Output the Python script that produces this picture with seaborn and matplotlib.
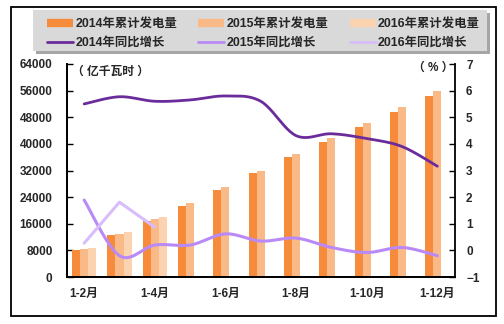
import numpy as np
import pandas as pd
import matplotlib
matplotlib.use("Agg")
import matplotlib.pyplot as plt
from matplotlib.lines import Line2D
from matplotlib.patches import Rectangle
import seaborn as sns

# Cumulative power generation (100 million kWh) and year-on-year growth (%)
months = ["1-2月", "1-3月", "1-4月", "1-5月", "1-6月", "1-7月",
          "1-8月", "1-9月", "1-10月", "1-11月", "1-12月"]
tick_labels = ["1-2月", "", "1-4月", "", "1-6月", "", "1-8月", "", "1-10月", "", "1-12月"]
years = ["2014", "2015", "2016"]

gen_2014 = [8100, 12600, 16900, 21300, 26000, 31200, 36200, 40700, 45200, 49700, 54500]
gen_2015 = [8500, 13000, 17500, 22200, 26900, 32000, 37100, 41900, 46400, 51200, 56000]
gen_2016 = [8800, 13500, 18000]

growth_2014 = [5.5, 5.77, 5.6, 5.65, 5.8, 5.6, 4.31, 4.38, 4.2, 3.9, 3.16]
growth_2015 = [1.89, -0.2, 0.2, 0.2, 0.62, 0.35, 0.46, 0.11, -0.08, 0.11, -0.2]
growth_2016 = [0.27, 1.81, 0.87]

bar_colors = ["#F68B3C", "#F9BA88", "#FCD3B1"]
line_colors = ["#6A2C9A", "#B98AF7", "#D8BDFB"]

sns.set_theme(style="white")
plt.rcParams["font.family"] = ["Liberation Sans", "Noto Sans CJK SC"]
plt.rcParams["font.weight"] = "bold"

rows = []
for yr, vals in zip(years, [gen_2014, gen_2015, gen_2016]):
    for m, v in zip(months, vals):
        rows.append({"month": m, "year": yr, "value": v})
df = pd.DataFrame(rows)


def smooth_path(y, n=24):
    """Catmull-Rom style Bezier curve through the points (spreadsheet smoothing)."""
    x = np.arange(len(y), dtype=float)
    p = np.column_stack([x, np.asarray(y, dtype=float)])
    ext = np.vstack([p[0], p, p[-1]])
    out = []
    t = np.linspace(0, 1, n)[:, None]
    for i in range(len(p) - 1):
        p0, p1, p2, p3 = ext[i], ext[i + 1], ext[i + 2], ext[i + 3]
        c1 = p1 + (p2 - p0) / 6.0
        c2 = p2 - (p3 - p1) / 6.0
        seg = ((1 - t) ** 3) * p1 + 3 * ((1 - t) ** 2) * t * c1 + 3 * (1 - t) * t ** 2 * c2 + t ** 3 * p2
        out.append(seg if i == 0 else seg[1:])
    pts = np.vstack(out)
    return pts[:, 0], pts[:, 1]


W, H = 504, 324
fig = plt.figure(figsize=(W / 100, H / 100), dpi=100)
ax = fig.add_axes([66.5 / W, 1 - 277 / H, (455 - 66.5) / W, (277 - 64) / H])

sns.barplot(data=df, x="month", y="value", hue="year", order=months, hue_order=years,
            palette=bar_colors, saturation=1, width=0.69, gap=0, errorbar=None,
            linewidth=0, legend=False, ax=ax)

ax2 = ax.twinx()
for vals, col, lw in [(growth_2014, line_colors[0], 2.0), (growth_2015, line_colors[1], 2.2)]:
    xs, ys = smooth_path(vals)
    sns.lineplot(x=xs, y=ys, sort=False, estimator=None, color=col, lw=lw, ax=ax2)
sns.lineplot(x=np.arange(len(growth_2016)), y=growth_2016, sort=False, estimator=None,
             color=line_colors[2], lw=2.2, ax=ax2)

ax.set_xlim(-0.5, len(months) - 0.5)
ax.set_ylim(0, 64000)
ax.set_yticks(np.arange(0, 64001, 8000))
ax.set_yticklabels([str(v) for v in range(0, 64001, 8000)])
ax2.set_ylim(-1, 7)
ax2.set_yticks(np.arange(-1, 8, 1))
ax.set_xticks(np.arange(len(months)))
ax.set_xticklabels(tick_labels)
ax.set_xticks(np.arange(-0.5, len(months), 1), minor=True)
ax.set_xlabel("")
ax.set_ylabel("")
ax2.set_ylabel("")

for a in (ax, ax2):
    for s in a.spines.values():
        s.set_color("black")
        s.set_linewidth(1.3)
    a.spines["top"].set_visible(False)
ax.spines["right"].set_visible(False)

ax.tick_params(axis="x", which="major", length=0, pad=8, labelsize=8.5)
ax.tick_params(axis="x", which="minor", direction="in", length=3, width=1, color="black")
ax.tick_params(axis="y", direction="in", length=4, width=1, color="black", pad=10,
               labelsize=8.5, left=True)
ax2.tick_params(axis="y", direction="in", length=4, width=1, color="black", pad=8,
                labelsize=8.5, right=True)
for lbl in ax.get_xticklabels() + ax.get_yticklabels() + ax2.get_yticklabels():
    lbl.set_fontweight("bold")

# unit labels
fig.text(111 / W, 1 - 72 / H, "（ 亿千瓦时 ）", fontsize=8.5, fontweight="bold",
         ha="center", va="center")
fig.text(433 / W, 1 - 68 / H, "（ % ）", fontsize=8.5, fontweight="bold",
         ha="center", va="center")

# outer frame
fig.add_artist(Rectangle((10.5 / W, 1 - 316 / H), (496 - 10.5) / W, (316 - 7) / H,
                         transform=fig.transFigure, fill=False, edgecolor="black", lw=1.3))

# legend panel with drop shadow
lx0, lx1, ly0, ly1 = 33 / W, 487 / W, 1 - 51 / H, 1 - 10 / H
fig.add_artist(Rectangle((lx0 + 3 / W, ly0 - 3 / H), lx1 - lx0, ly1 - ly0,
                         transform=fig.transFigure, facecolor="#A6A6A6", edgecolor="none"))
fig.add_artist(Rectangle((lx0, ly0), lx1 - lx0, ly1 - ly0, transform=fig.transFigure,
                         facecolor="#D9D9D9", edgecolor="none"))

handles, labels = [], []
for i, yr in enumerate(years):
    handles.append(Line2D([], [], color=bar_colors[i], lw=6, solid_capstyle="butt"))
    labels.append(f"{yr}年累计发电量")
    handles.append(Line2D([], [], color=line_colors[i], lw=2))
    labels.append(f"{yr}年同比增长")
fig.legend(handles, labels, ncol=3, loc="upper left", bbox_to_anchor=(41 / W, 1 - 12 / H),
           frameon=False, borderpad=0, handlelength=2.1, handletextpad=0.2, columnspacing=1.7,
           labelspacing=0.55, prop={"size": 8.9, "weight": "bold"})

fig.savefig("out.png", dpi=100)
